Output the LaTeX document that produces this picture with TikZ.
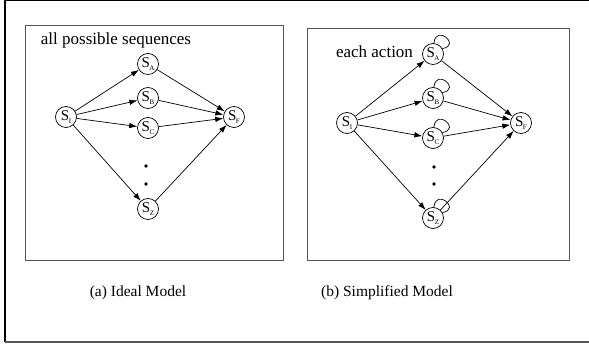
\documentclass[tikz,border=0pt]{standalone}
\usepackage{fontspec}
\setmainfont{Liberation Serif}
\usetikzlibrary{arrows.meta}
\definecolor{framegray}{HTML}{555555}
\newcommand{\stname}[1]{S\kern-0.5pt\raisebox{-2.5pt}{\fontsize{7}{7}\selectfont #1}}

\begin{document}
\begin{tikzpicture}[x=1pt,y=1pt,>={Latex[length=8pt,width=5.5pt]},line width=0.7pt,
    st/.style={circle,draw,inner sep=0pt,minimum size=21pt,font=\fontsize{15}{15}\selectfont},
    lbl/.style={font=\fontsize{17}{19}\selectfont},
    captxt/.style={font=\fontsize{15.5}{18}\selectfont}]
  \useasboundingbox (0,0) rectangle (589,348);
  % outer frame, open on the right
  \draw[line width=1.2pt] (600,347.4) -- (5,347.4) -- (5,6);
  \draw[line width=1.2pt,framegray] (5,6) -- (600,6);
  \draw[framegray,line width=1pt] (25,87) rectangle (283,322);
  \draw[framegray,line width=1pt] (307,87) rectangle (569,319);

  % (a) every sequence spelled out
  \node[lbl] (ta) at (116,308) {all possible sequences};
  \node[st] (ai) at (66,231) {\stname{I}};
  \node[st] (af) at (234,231) {\stname{F}};
  \foreach \n/\y/\s in {a/284/A,b/250/B,c/220/C,z/139/Z}{
    \node[st] (a\n) at (148,\y) {\stname{\s}};
    \draw[->] (ai) -- (a\n);
    \draw[->] (a\n) -- (af);
  }
  \fill (146,182) circle (1.8pt) (146,164) circle (1.8pt);

  % (b) one looping state per action
  \node[lbl] (tb) at (374.5,296) {each action};
  \node[st] (bi) at (347,225) {\stname{I}};
  \node[st] (bf) at (521,225) {\stname{F}};
  \foreach \n/\y/\s in {a/294/A,b/250/B,c/210/C,z/130/Z}{
    \node[st] (b\n) at (433,\y) {\stname{\s}};
    \draw[->] (bi) -- (b\n);
    \draw[->] (b\n) -- (bf);
    \draw (b\n.85) to[out=85,in=10,looseness=5] (b\n.30);
  }
  \fill (434,181) circle (1.8pt) (434,164) circle (1.8pt);

  \node[captxt] (ca) at (138,55) {(a) Ideal Model};
  \node[captxt] (cb) at (387,55) {(b) Simplified Model};
\end{tikzpicture}
\end{document}
